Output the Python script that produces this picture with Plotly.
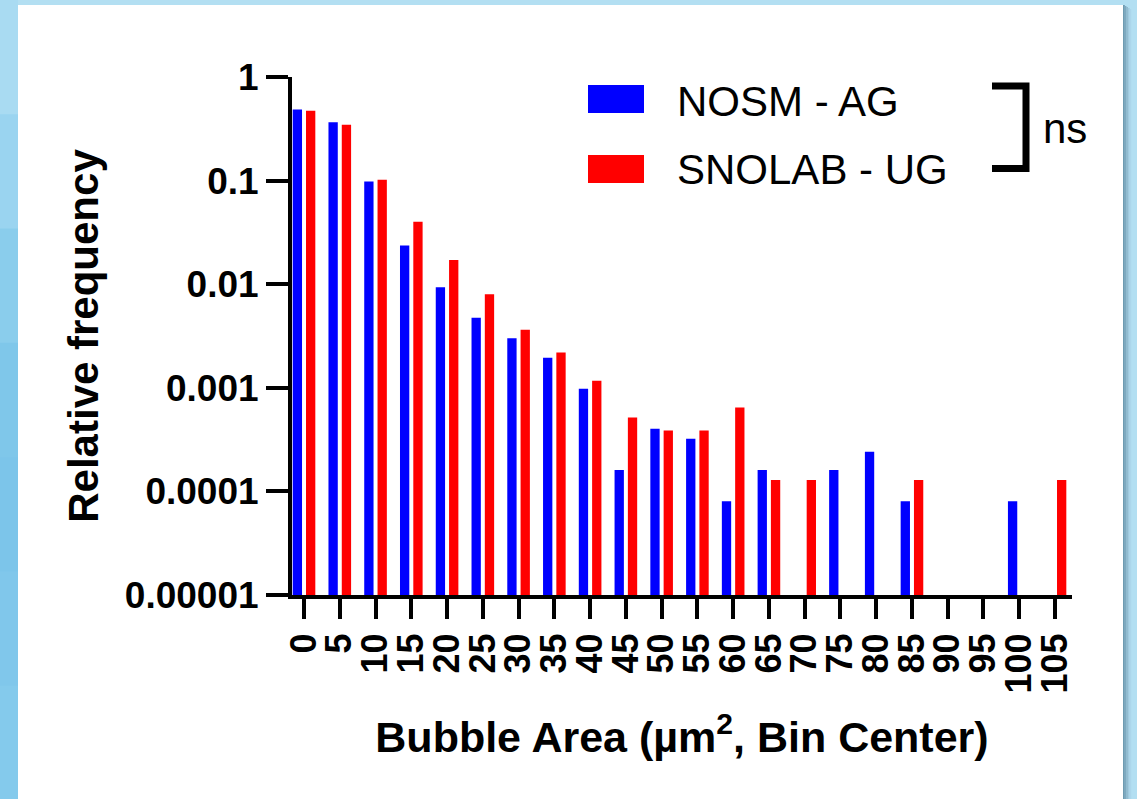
import plotly.graph_objects as go

# ---------------- data ----------------
bin_centers = ["0", "5", "10", "15", "20", "25", "30", "35", "40", "45", "50",
               "55", "60", "65", "70", "75", "80", "85", "90", "95", "100", "105"]
nosm_ag = [0.486, 0.366, 0.098, 0.0236, 0.00935, 0.00474, 0.00301, 0.00195,
           0.00098, 0.000161, 0.000402, 0.000322, 0.0000804, 0.000161, None,
           0.000161, 0.000241, 0.0000804, None, None, 0.0000804, None]
snolab_ug = [0.472, 0.346, 0.102, 0.040, 0.0171, 0.0080, 0.00363, 0.00219,
             0.00117, 0.000516, 0.000387, 0.000387, 0.000645, 0.000129, 0.000129,
             None, None, 0.000129, None, None, None, 0.000129]
series_names = ["NOSM - AG", "SNOLAB - UG"]
series_colors = ["#0000ff", "#ff0000"]
y_tickvals = [1e-5, 1e-4, 1e-3, 1e-2, 1e-1, 1]
y_ticktext = ["0.00001", "0.0001", "0.001", "0.01", "0.1", "1"]
sig_label = "ns"

# ---------------- geometry ----------------
W_FIG, H_FIG = 1137, 799
L, R, T, B = 292, 65, 77, 204
PW = W_FIG - L - R
PH = H_FIG - T - B
BOTTOM = H_FIG - B


def xp(px):
    return (px - L) / PW


def yp(py):
    return (BOTTOM - py) / PH


FONT = "Liberation Sans, Arial, Helvetica, sans-serif"

fig = go.Figure()
for name, vals, col in zip(series_names, [nosm_ag, snolab_ug], series_colors):
    fig.add_trace(go.Bar(x=bin_centers, y=vals, name=name,
                         marker=dict(color=col, line=dict(width=0)),
                         showlegend=False))

shapes = []
# page background pieces
shapes.append(dict(type="rect", xref="paper", yref="paper", layer="below",
                   x0=xp(18), x1=xp(1123), y0=yp(5), y1=yp(820),
                   fillcolor="white", line=dict(width=0)))
left_cols = ["#a9dbf2", "#9ad4f0", "#8acdec", "#7fc7ea", "#7cc5ea", "#80c7eb", "#84caec"]
n = len(left_cols)
for i, c in enumerate(left_cols):
    shapes.append(dict(type="rect", xref="paper", yref="paper", layer="below",
                       x0=xp(-1), x1=xp(18), y0=yp(i * 800 / n), y1=yp((i + 1) * 800 / n + 1),
                       fillcolor=c, line=dict(width=0)))
right_cols = ["#6e9bb1", "#7ea9bf", "#8fb9ce", "#a0cade", "#acd6eb"]
for i, c in enumerate(right_cols):
    shapes.append(dict(type="rect", xref="paper", yref="paper", layer="below",
                       x0=xp(1123 + i * 1.6), x1=xp(1123 + (i + 1) * 1.6 + 0.2),
                       y0=yp(5 + i), y1=yp(820),
                       fillcolor=c, line=dict(width=0)))

# legend swatches
for i, col in enumerate(series_colors):
    y0 = 85 + i * 70
    shapes.append(dict(type="rect", xref="paper", yref="paper",
                       x0=xp(588), x1=xp(644), y0=yp(y0), y1=yp(y0 + 28),
                       fillcolor=col, line=dict(width=0)))
# significance bracket
shapes.append(dict(type="path", xref="paper", yref="paper",
                   path=(f"M {xp(992)},{yp(86)} L {xp(1026)},{yp(86)} "
                         f"L {xp(1026)},{yp(168.5)} L {xp(992)},{yp(168.5)}"),
                   line=dict(color="black", width=7)))

annotations = []
for i, name in enumerate(series_names):
    annotations.append(dict(xref="paper", yref="paper", x=xp(675), y=yp(101 + i * 68),
                            xanchor="left", yanchor="middle", showarrow=False,
                            text=name, font=dict(family=FONT, size=42, color="black")))
annotations.append(dict(xref="paper", yref="paper", x=xp(1041), y=yp(128),
                        xanchor="left", yanchor="middle", showarrow=False,
                        text=sig_label, font=dict(family=FONT, size=42, color="black")))

fig.update_layout(
    width=W_FIG, height=H_FIG, autosize=False,
    margin=dict(l=L, r=R, t=T, b=B, pad=0),
    paper_bgcolor="#b3dff2", plot_bgcolor="white",
    barmode="group", bargap=0.256, bargroupgap=0.30,
    shapes=shapes, annotations=annotations,
    xaxis=dict(type="category", range=[-0.336, 21.475],
               tickmode="array", tickvals=bin_centers, ticktext=bin_centers,
               showline=True, linewidth=4, linecolor="black",
               ticks="outside", ticklen=20, tickwidth=4, tickcolor="black",
               tickangle=-90, showgrid=False, zeroline=False,
               tickfont=dict(family=FONT, size=36, color="black", weight="bold"),
               title=dict(text="Bubble Area (µm<sup>2</sup>, Bin Center)",
                          font=dict(family=FONT, size=43, color="black", weight="bold"),
                          standoff=30)),
    yaxis=dict(type="log", range=[-5, 0],
               tickvals=y_tickvals, ticktext=y_ticktext,
               showline=True, linewidth=4, linecolor="black",
               ticks="outside", ticklen=22, tickwidth=4, tickcolor="black",
               showgrid=False, zeroline=False,
               tickfont=dict(family=FONT, size=37, color="black", weight="bold"),
               title=dict(text="Relative frequency",
                          font=dict(family=FONT, size=42, color="black", weight="bold"),
                          standoff=14)),
)

fig.write_html("out.html", config={"displayModeBar": False},
               post_script="document.body.style.margin='0';document.body.style.overflow='hidden';")
